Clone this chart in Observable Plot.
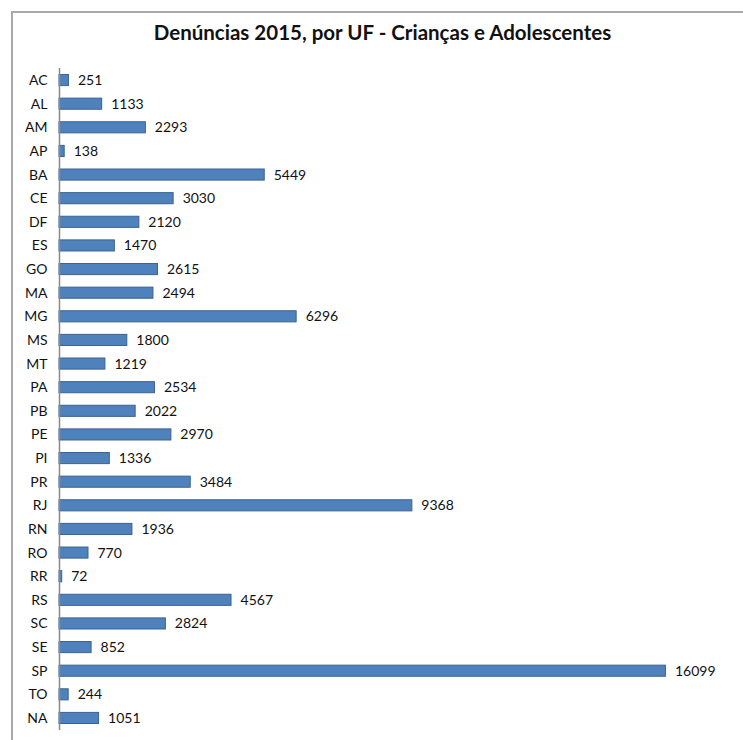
<!DOCTYPE html>
<html>
<head>
<meta charset="utf-8">
<script src="https://cdn.jsdelivr.net/npm/d3@7"></script>
<script src="https://cdn.jsdelivr.net/npm/@observablehq/plot@0.6"></script>
<style>
  html, body { margin: 0; padding: 0; background: #fff; }
  #wrap { position: relative; width: 743px; height: 740px; overflow: hidden; font-family: Lato, "Open Sans", sans-serif; }
  #frame { position: absolute; left: 11px; top: 11px; width: 800px; height: 800px; border-left: 2px solid #a9a9a9; border-top: 2px solid #a9a9a9; }
  #title { position: absolute; left: 0; top: 20px; width: 765px; text-align: center; font-weight: bold; font-size: 20.5px; color: #111; }
  #chart { position: absolute; left: 0; top: 0; }
</style>
</head>
<body>
<div id="wrap">
  <div id="frame"></div>
  <div id="chart"></div>
  <div id="title">Denúncias 2015, por UF - Crianças e Adolescentes</div>
</div>
<script>
const ufs = ["AC","AL","AM","AP","BA","CE","DF","ES","GO","MA","MG","MS","MT","PA","PB","PE","PI","PR","RJ","RN","RO","RR","RS","SC","SE","SP","TO","NA"];
const denuncias = [251,1133,2293,138,5449,3030,2120,1470,2615,2494,6296,1800,1219,2534,2022,2970,1336,3484,9368,1936,770,72,4567,2824,852,16099,244,1051];

const data = ufs.map((uf, i) => ({uf, value: denuncias[i]}));

const chart = Plot.plot({
  width: 743,
  height: 740,
  marginTop: 68,
  marginBottom: 10,
  marginLeft: 59,
  marginRight: 6,
  style: { fontFamily: "Lato, 'Open Sans', sans-serif", fontSize: "14px", color: "#111", background: "transparent" },
  x: { domain: [0, 18000], axis: null },
  y: { domain: ufs, paddingInner: 0.53, paddingOuter: 0.275, round: false, label: null },
  marks: [
    Plot.axisY({ tickSize: 0, tickPadding: 12, fontSize: 14, label: null }),
    Plot.barX(data, { x: "value", y: "uf", fill: "#4F81BD", stroke: "#3B6390", strokeWidth: 1 }),
    Plot.ruleX([0], { stroke: "#8a8a8a", strokeWidth: 1.5 }),
    Plot.text(data, { x: "value", y: "uf", text: d => String(d.value), textAnchor: "start", dx: 9, fontSize: 14, fill: "#111" })
  ]
});
document.getElementById("chart").appendChild(chart);
</script>
</body>
</html>
